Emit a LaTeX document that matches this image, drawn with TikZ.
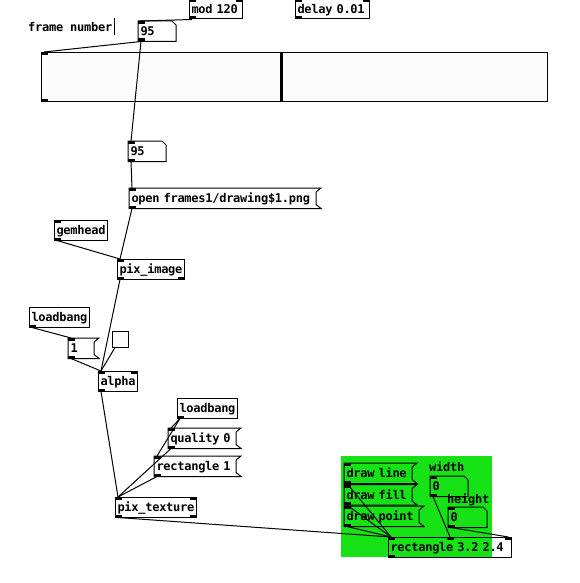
\documentclass[tikz,border=0pt]{standalone}
\usepackage{fontspec}
\usepackage{xcolor}
\usepackage{tikz}
\usetikzlibrary{positioning}
\newfontfamily\pdfont{DejaVu Sans Mono}[LetterSpace=-2.2]
\newcommand{\pdtext}{\pdfont\bfseries\fontsize{12pt}{13pt}\selectfont}
\definecolor{canvasgreen}{RGB}{22,226,22}
\definecolor{guigray}{RGB}{252,252,252}
\tikzset{pdobj/.style={draw, line width=1pt, anchor=north west, font=\pdtext, inner xsep=2pt, inner ysep=0pt,
  minimum height=19.5pt, text height=9.7pt, text depth=0.4pt, text width=#1pt},
%message and number boxes get their outline drawn below
pdmsg/.style={pdobj=#1, draw=none},
pdnum/.style={pdobj=#1, draw=none},
pdcomment/.style={anchor=base west, font=\pdtext, inner sep=0pt},
wire/.style={line width=1pt}}

\begin{document}
\begin{tikzpicture}[x=1pt,y=-1pt]

\fill[white] (0,0) rectangle (580,583);
\useasboundingbox (0,0) rectangle (580,583);

%SUBPATCH CANVAS
  \fill[canvasgreen] (341,456) rectangle (492,557);

%DRAWING BOXES
  \node[pdobj=49] (mod) at (189,-1) {mod 120};
  \node[pdobj=70] (delay) at (295,-1) {delay 0.01};
  \node[pdcomment] (fnum) at (28,32) {frame number};
  \node[pdnum=33] (num95a) at (138,21) {95};

  \node[draw, line width=1pt, fill=guigray, anchor=north west, inner sep=0pt,
        minimum width=505.5pt, minimum height=49.5pt] (slider) at (41,52) {};

  \node[pdnum=33] (num95b) at (128,141) {95};
  \node[pdmsg=182] (msgopen) at (129,188) {open frames1/drawing\$1.png};
  \node[pdobj=49] (gemhead) at (54,220) {gemhead};
  \node[pdobj=63] (piximage) at (117,259) {pix\_image};

  \node[pdobj=56] (loadbangA) at (29,307) {loadbang};
  \node[pdmsg=21] (msgone) at (68,338) {1};
  \node[draw, line width=1pt, fill=guigray, anchor=north west, inner sep=0pt,
        minimum size=15.5pt] (toggle) at (112,331) {};
  \node[pdobj=35] (alpha) at (98,371) {alpha};

  \node[pdobj=56] (loadbangB) at (177,398) {loadbang};
  \node[pdmsg=63] (msgquality) at (168,428) {quality 0};
  \node[pdmsg=77] (msgrect) at (154,456) {rectangle 1};
  \node[pdobj=77] (pixtexture) at (115,497) {pix\_texture};

  \node[pdmsg=63] (msgline) at (344,463) {draw line};
  \node[pdmsg=63] (msgfill) at (344,484.5) {draw fill};
  \node[pdmsg=70] (msgpoint) at (344,506) {draw point};
  \node[pdcomment] (lblwidth) at (429,471) {width};
  \node[pdnum=33] (numW) at (430,476) {0};
  \node[pdcomment] (lblheight) at (447,503) {height};
  \node[pdnum=34] (numH) at (448,507) {0};
  \node[pdobj=119] (rect3) at (388,537) {rectangle 3.2 2.4};

%outlines
  \foreach \n in {num95a,num95b,numW,numH}
    \draw[line width=1pt] (\n.north west) -- ([xshift=-4pt]\n.north east) -- ([yshift=-4pt]\n.north east)
      -- (\n.south east) -- (\n.south west) -- cycle;
  \foreach \n in {msgopen,msgone,msgquality,msgrect,msgline,msgfill,msgpoint}
    \draw[line width=1pt] (\n.north west) -- ([xshift=5pt]\n.north east) -- ([yshift=-4pt]\n.north east)
      -- ([yshift=4pt]\n.south east) -- ([xshift=5pt]\n.south east) -- (\n.south west) -- cycle;

  \draw[line width=3pt] ([xshift=240.7pt,yshift=-1pt]slider.north west) -- ([xshift=240.7pt,yshift=1pt]slider.south west);
  \draw[line width=0.8pt] ([xshift=2pt,yshift=14pt]fnum.base east) -- ([xshift=2pt,yshift=-3pt]fnum.base east);

%inlets and outlets
  \foreach \n in {mod,delay,num95a,slider,num95b,msgopen,gemhead,piximage,msgone,alpha,
                  msgquality,msgrect,pixtexture,msgline,msgfill,msgpoint,numW,numH,rect3}
    \fill (\n.north west) rectangle ([xshift=7pt,yshift=-3pt]\n.north west);
  \foreach \n in {mod,delay,alpha,pixtexture,rect3}
    \fill (\n.north east) rectangle ([xshift=-7pt,yshift=-3pt]\n.north east);
  \fill ([xshift=-3.5pt]rect3.north) rectangle ([xshift=3.5pt,yshift=-3pt]rect3.north);
  \foreach \n in {mod,delay,num95a,slider,num95b,msgopen,gemhead,piximage,loadbangA,msgone,alpha,
                  loadbangB,msgquality,msgrect,pixtexture,msgline,msgfill,msgpoint,numW,numH,rect3}
    \fill (\n.south west) rectangle ([xshift=7pt,yshift=3pt]\n.south west);
  \foreach \n in {piximage,pixtexture}
    \fill (\n.south east) rectangle ([xshift=-7pt,yshift=3pt]\n.south east);

%DRAWING CONNECTIONS
  \draw[wire] ([xshift=3pt]mod.south west) -- ([xshift=3pt]num95a.north west);
  \draw[wire] ([xshift=3pt]num95a.south west) -- ([xshift=3pt]slider.north west);
  \draw[wire] ([xshift=3pt]num95a.south west) -- ([xshift=3pt]num95b.north west);
  \draw[wire] ([xshift=3pt]num95b.south west) -- ([xshift=3pt]msgopen.north west);
  \draw[wire] ([xshift=3pt]msgopen.south west) -- ([xshift=3pt]piximage.north west);
  \draw[wire] ([xshift=3pt]gemhead.south west) -- ([xshift=3pt]piximage.north west);
  \draw[wire] ([xshift=3pt]piximage.south west) -- ([xshift=3pt]alpha.north west);

  \draw[wire] ([xshift=3pt]loadbangA.south west) -- ([xshift=3pt]msgone.north west);
  \draw[wire] ([xshift=3pt]msgone.south west) -- ([xshift=3pt]alpha.north west);
  \draw[wire] ([xshift=3pt]toggle.south west) -- ([xshift=3pt]alpha.north west);
  \draw[wire] ([xshift=3pt]alpha.south west) -- ([xshift=3pt]pixtexture.north west);

  \draw[wire] ([xshift=3pt]loadbangB.south west) -- ([xshift=3pt]msgquality.north west);
  \draw[wire] ([xshift=3pt]loadbangB.south west) -- ([xshift=3pt]msgrect.north west);
  \draw[wire] ([xshift=3pt]msgquality.south west) -- ([xshift=3pt]pixtexture.north west);
  \draw[wire] ([xshift=3pt]msgrect.south west) -- ([xshift=3pt]pixtexture.north west);

  \draw[wire] ([xshift=3pt]pixtexture.south west) -- ([xshift=3pt]rect3.north west);
  \draw[wire] ([xshift=3pt]msgline.south west) -- ([xshift=3pt]rect3.north west);
  \draw[wire] ([xshift=3pt]msgfill.south west) -- ([xshift=3pt]rect3.north west);
  \draw[wire] ([xshift=3pt]msgpoint.south west) -- ([xshift=3pt]rect3.north west);
  \draw[wire] ([xshift=3pt]numW.south west) -- (rect3.north);
  \draw[wire] ([xshift=3pt]numH.south west) -- ([xshift=-3.5pt]rect3.north east);

\end{tikzpicture}
\end{document}
